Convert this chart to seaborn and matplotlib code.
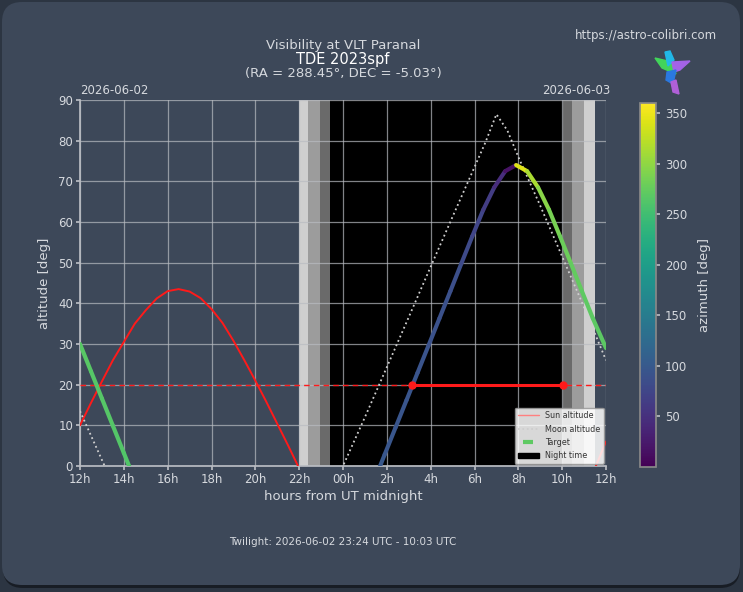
import numpy as np
import pandas as pd
import matplotlib
matplotlib.use("Agg")
import matplotlib.pyplot as plt
import seaborn as sns
from matplotlib.collections import LineCollection
from matplotlib.patches import FancyBboxPatch, Polygon, Patch
from matplotlib.lines import Line2D
import matplotlib.colors as mcolors
import matplotlib.cm as cm

# ---------------- data ----------------
title_lines = ["Visibility at VLT Paranal", "TDE 2023spf", "(RA = 288.45°, DEC = -5.03°)"]
date_left = "2026-06-02"
date_right = "2026-06-03"
footer = "Twilight: 2026-06-02 23:24 UTC - 10:03 UTC"
url = "https://astro-colibri.com"

x_ticks = [-12, -10, -8, -6, -4, -2, 0, 2, 4, 6, 8, 10, 12]
x_labels = ["12h", "14h", "16h", "18h", "20h", "22h", "00h", "2h", "4h", "6h", "8h", "10h", "12h"]
y_ticks = [0, 10, 20, 30, 40, 50, 60, 70, 80, 90]
cbar_ticks = [50, 100, 150, 200, 250, 300, 350]

# Sun altitude (deg) vs hours from UT midnight
sun_hours_day = [-12, -11.5, -11, -10.5, -10, -9.5, -9, -8.5, -8, -7.5, -7, -6.5,
                 -6, -5.5, -5, -4.5, -4, -3.5, -3, -2.5, -2, -1.5]
sun_alt_day = [10, 15.5, 20.8, 26, 30.5, 35, 38.3, 41.2, 43, 43.5, 42.9, 41.3,
               38.6, 35.2, 30.8, 26, 21, 15.8, 10.4, 5, -0.6, -6]
sun_hours_morn = [11, 11.5, 12]
sun_alt_morn = [-6, -0.5, 6]

# Moon altitude (deg)
moon_hours_a = [-12, -11.5, -11, -10.5]
moon_alt_a = [13.5, 7.5, 1.5, -4.5]
moon_hours_b = [-0.5, 0, 1, 2, 3, 4, 5, 6, 6.5, 7, 7.5, 8, 9, 10, 11, 12]
moon_alt_b = [-6, 0, 12, 24.3, 36.6, 49, 61.3, 73.5, 79.6, 86.5, 82.5, 76, 64, 51.5, 39, 26]

# Target altitude (deg) and azimuth (deg)
tgt_hours_prev = [-12, -11.5, -11, -10.5, -10, -9.5]
tgt_alt_prev = [30, 23.3, 16.6, 9.9, 3.2, -3.5]
tgt_az_prev = [268, 266, 265, 264, 263, 262]

tgt_hours_rise = [1.5, 1.9, 2.4, 2.9, 3.4, 3.9, 4.4, 4.9, 5.4, 5.9, 6.4, 6.9, 7.4, 7.9]
tgt_alt_rise = [-2.6, 2.8, 9.5, 16.2, 22.9, 29.6, 36.3, 43, 49.8, 56.5, 63, 68.5, 72.5, 74]
tgt_az_rise = [98, 97, 96, 95, 94, 92, 90, 88, 84, 79, 70, 57, 34, 0]

tgt_hours_set = [7.9, 8.4, 8.9, 9.4, 9.9, 10.4, 10.9, 11.4, 12.0]
tgt_alt_set = [74, 72.5, 68.5, 63, 56.5, 49.8, 43, 36.3, 29.0]
tgt_az_set = [360, 326, 303, 290, 281, 276, 272, 270, 268]

# twilight band edges (hours): civil, nautical, astronomical, night, ...
twilight_edges = [-2.0, -1.6, -1.05, -0.6, 10.05, 10.45, 11.0, 11.5]
alt_limit = 20
obs_window = [3.15, 10.05]

# ---------------- style ----------------
BG = "#3d4859"
TXT = "#d6d9de"
GRID = "#b9bcc2"

sns.set_theme(style="ticks")
plt.rcParams["font.family"] = ["DejaVu Sans"]

fig = plt.figure(figsize=(7.43, 5.92), dpi=100)
fig.patch.set_facecolor("#2c3542")

# background rounded panel
bg = fig.add_axes([0, 0, 1, 1], zorder=-10)
bg.set_xlim(0, 743)
bg.set_ylim(592, 0)
bg.axis("off")
bg.add_patch(FancyBboxPatch((3, 6), 737, 582, boxstyle="round,pad=0,rounding_size=20",
                            facecolor="#181d25", edgecolor="none"))
bg.add_patch(FancyBboxPatch((2, 2), 738, 583, boxstyle="round,pad=0,rounding_size=20",
                            facecolor=BG, edgecolor="none"))

ax = fig.add_axes([80 / 743, 1 - 466 / 592, 526 / 743, 366 / 592])
ax.set_facecolor(BG)

# twilight bands
band_colors = ["#cfcfcf", "#9c9c9c", "#6a6a6a", "#000000", "#6a6a6a", "#9c9c9c", "#cfcfcf"]
for i in range(len(twilight_edges) - 1):
    ax.axvspan(twilight_edges[i], twilight_edges[i + 1], color=band_colors[i], lw=0, zorder=0.5)

# sun
sns.lineplot(x=sun_hours_day, y=sun_alt_day, ax=ax, color="#ff1a1a", lw=1.4, sort=False, zorder=3)
sns.lineplot(x=sun_hours_morn, y=sun_alt_morn, ax=ax, color="#ff1a1a", lw=1.4, sort=False, zorder=3)

# moon
sns.lineplot(x=moon_hours_a, y=moon_alt_a, ax=ax, color="#d0d0d0", lw=1.3, ls=":", sort=False, zorder=3)
sns.lineplot(x=moon_hours_b, y=moon_alt_b, ax=ax, color="#d0d0d0", lw=1.3, ls=":", sort=False, zorder=3)

# target coloured by azimuth
norm = mcolors.Normalize(0, 360)
cmap = plt.get_cmap("viridis")
for hrs, alt, az in [(tgt_hours_prev, tgt_alt_prev, tgt_az_prev),
                     (tgt_hours_rise, tgt_alt_rise, tgt_az_rise),
                     (tgt_hours_set, tgt_alt_set, tgt_az_set)]:
    pts = np.column_stack([hrs, alt])
    segs = np.stack([pts[:-1], pts[1:]], axis=1)
    azc = (np.asarray(az[:-1]) + np.asarray(az[1:])) / 2.0
    lc = LineCollection(segs, colors=cmap(norm(azc)), linewidths=3.0, zorder=4, capstyle="round")
    ax.add_collection(lc)

# altitude limit and observable window
ax.axhline(alt_limit, color="#ff1a1a", lw=1.0, ls=(0, (4, 3)), zorder=3)
ax.plot(obs_window, [alt_limit, alt_limit], color="#ff1a1a", lw=2.2, marker="o", ms=5, zorder=5)

ax.set_xlim(-12, 12)
ax.set_ylim(0, 90)
ax.set_xticks(x_ticks)
ax.set_xticklabels(x_labels)
ax.set_yticks(y_ticks)
ax.set_axisbelow("line")
ax.grid(True, color=GRID, lw=0.9, alpha=0.7)
for s in ["top", "right"]:
    ax.spines[s].set_visible(False)
for s in ["left", "bottom"]:
    ax.spines[s].set_color(GRID)
ax.tick_params(colors=TXT, labelsize=8.5, length=3, color=GRID, pad=2)
ax.set_xlabel("hours from UT midnight", color=TXT, fontsize=9.5, labelpad=3)
ax.set_ylabel("altitude [deg]", color=TXT, fontsize=9.5, labelpad=5)

handles = [Line2D([], [], color="#ff8080", lw=1.0),
           Line2D([], [], color="#cccccc", lw=1.2, ls=":"),
           Line2D([], [], color="#5ec962", ls="none", marker="_", ms=7, mew=3),
           Patch(facecolor="black", edgecolor="black")]
labels = ["Sun altitude", "Moon altitude", "Target", "Night time"]
leg = ax.legend(handles, labels, loc="lower right", fontsize=5.8, frameon=True,
                facecolor="white", edgecolor="#999999", framealpha=0.85,
                borderaxespad=0.3, handlelength=2.6, labelspacing=0.55)
leg.set_zorder(10)
for t in leg.get_texts():
    t.set_color("#333333")

# dates
fig.text(80 / 743, 1 - 97 / 592, date_left, color=TXT, fontsize=8.5, ha="left", va="bottom")
fig.text(610 / 743, 1 - 97 / 592, date_right, color=TXT, fontsize=8.5, ha="right", va="bottom")

# title
for i, line in enumerate(title_lines):
    fig.text(343 / 743, 1 - (46 + 13.5 * i) / 592, line, color=TXT if i != 1 else "white",
             fontsize=9.5 if i != 1 else 10.5, ha="center", va="center")

fig.text(717 / 743, 1 - 35 / 592, url, color=TXT, fontsize=8.5, ha="right", va="center")
fig.text(343 / 743, 1 - 542 / 592, footer, color=TXT, fontsize=7.5, ha="center", va="center")

# colorbar
cax = fig.add_axes([640 / 743, 1 - 467 / 592, 16 / 743, 364 / 592])
sm = cm.ScalarMappable(norm=norm, cmap=cmap)
cb = fig.colorbar(sm, cax=cax, ticks=cbar_ticks)
cb.outline.set_edgecolor("#888888")
cb.ax.tick_params(colors=TXT, labelsize=8.5, length=3, color=GRID)
cb.set_label("azimuth [deg]", color=TXT, fontsize=9.5, labelpad=8)

# logo (hummingbird)
lg = fig.add_axes([0, 0, 1, 1], zorder=20)
lg.set_xlim(0, 743)
lg.set_ylim(592, 0)
lg.axis("off")
lg.add_patch(Polygon([(655, 58), (672, 62), (676, 74), (662, 68)], color="#42d45a"))
lg.add_patch(Polygon([(665, 52), (670, 51), (674, 60), (668, 66)], color="#21b8e8"))
lg.add_patch(Polygon([(672, 62), (690, 61), (680, 70), (674, 72)], color="#a463e8"))
lg.add_patch(Polygon([(667, 72), (676, 70), (673, 84), (666, 80)], color="#2a78e0"))
lg.add_patch(Polygon([(671, 82), (676, 80), (679, 94), (673, 92)], color="#b060d8"))

fig.savefig("out.png", dpi=100, facecolor=fig.get_facecolor())
